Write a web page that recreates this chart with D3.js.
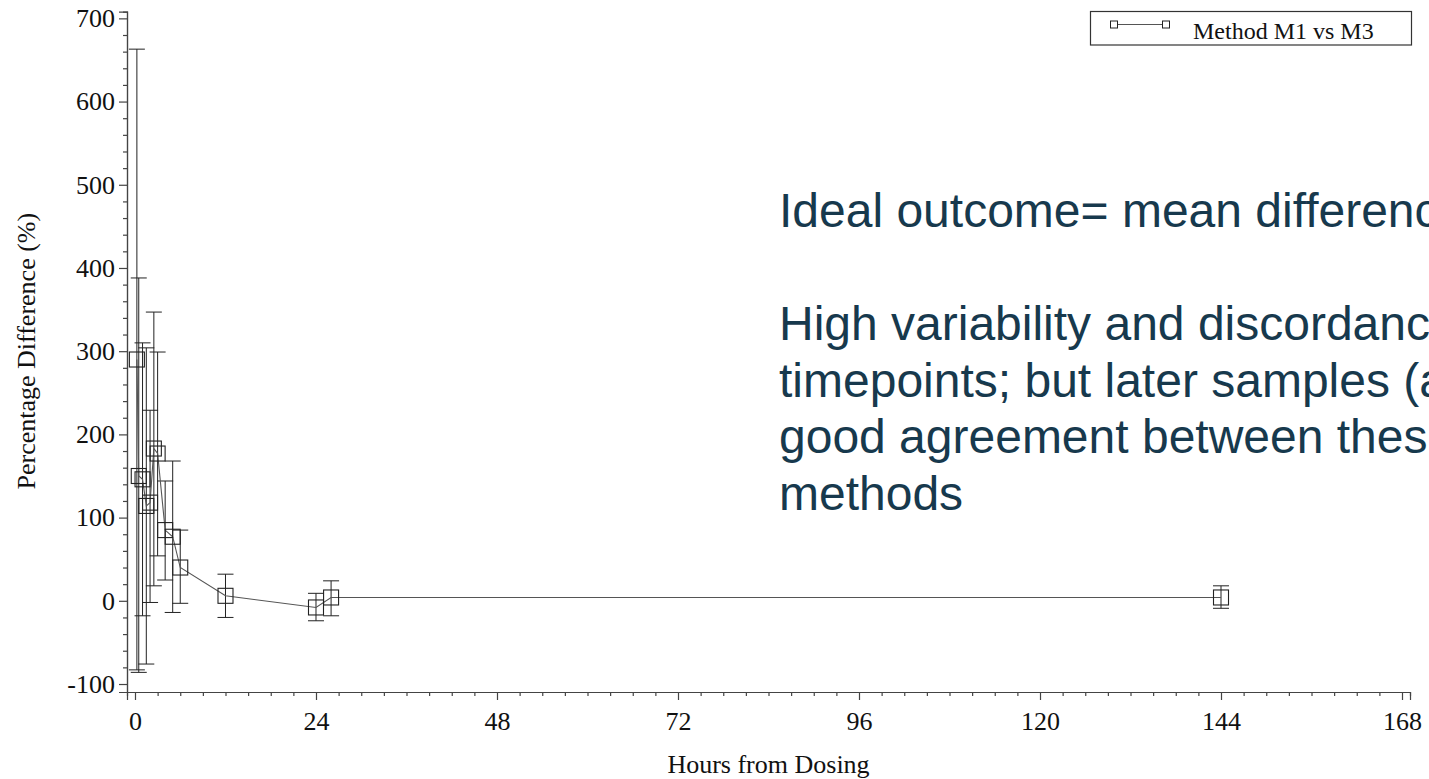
<!DOCTYPE html>
<html>
<head>
<meta charset="utf-8">
<script src="https://cdn.jsdelivr.net/npm/d3@7"></script>
<style>
  html, body { margin: 0; padding: 0; background: #fff; overflow: hidden; }
  svg { display: block; }
</style>
</head>
<body>
<svg id="chart" width="1429" height="779"></svg>
<script>
// Sampling times (hours post dose)
const hours = [0.25, 0.5, 1, 1.5, 2, 2.5, 3, 4, 5, 6, 12, 24, 26, 144];
// Mean percentage difference, method M1 vs M3
const meanDiff = [290, 150, 146, 114, 118, 183, 177, 85, 77, 40, 6, -8, 4, 4];
// Error bar limits
const lowerDiff = [-83, -86, -18, -76, -2, 18, 54, 25, -14, -3, -20, -24, -18, -9];
const upperDiff = [663, 388, 310, 304, 229, 347, 299, 144, 168, 85, 32, 9, 24, 18];

const xTicks = [0, 24, 48, 72, 96, 120, 144, 168];
const yTicks = [-100, 0, 100, 200, 300, 400, 500, 600, 700];

const seriesName = "Method M1 vs M3";
const xTitle = "Hours from Dosing";
const yTitle = "Percentage Difference (%)";
const noteLines = [
  "Ideal outcome= mean differenc",
  "",
  "High variability and discordanc",
  "timepoints; but later samples (a",
  "good agreement between thes",
  "methods"
];

const svg = d3.select("#chart");
const serif = "'Liberation Serif', 'Times New Roman', serif";
const sans = "'Liberation Sans', Arial, sans-serif";

const x = d3.scaleLinear().domain([-1.06, 169.06]).range([127, 1410]);
const y = d3.scaleLinear().domain([-109.6, 708]).range([692, 11.7]);

const axisColor = "#444";
const plainInt = d => String(d); // hyphen-minus for negatives

// Y axis with minor ticks
const yAxisG = svg.append("g").attr("transform", `translate(${x.range()[0]},0)`);
yAxisG.call(d3.axisLeft(y).tickValues(d3.range(-100, 701, 20)).tickSize(4).tickFormat(""));
yAxisG.call(g => g.selectAll(".tick").filter(d => d % 100 === 0).remove());
const yMajor = svg.append("g").attr("transform", `translate(${x.range()[0]},0)`)
  .call(d3.axisLeft(y).tickValues(yTicks).tickSize(8).tickPadding(4).tickFormat(plainInt));
[yAxisG, yMajor].forEach(g => {
  g.selectAll("path.domain").attr("stroke", axisColor).attr("stroke-width", 1.2);
  g.selectAll(".tick line").attr("stroke", axisColor).attr("stroke-width", 1.2);
});
yMajor.selectAll("text").attr("font-family", serif).attr("font-size", 26).attr("fill", "#111");

// X axis with minor ticks
const xAxisG = svg.append("g").attr("transform", `translate(0,${y.range()[0]})`);
xAxisG.call(d3.axisBottom(x).tickValues(d3.range(0, 169, 3)).tickSize(4).tickFormat(""));
xAxisG.call(g => g.selectAll(".tick").filter(d => d % 24 === 0).remove());
const xMajor = svg.append("g").attr("transform", `translate(0,${y.range()[0]})`)
  .call(d3.axisBottom(x).tickValues(xTicks).tickSize(8).tickPadding(12).tickFormat(plainInt));
[xAxisG, xMajor].forEach(g => {
  g.selectAll("path.domain").attr("stroke", axisColor).attr("stroke-width", 1.2);
  g.selectAll(".tick line").attr("stroke", axisColor).attr("stroke-width", 1.2);
});
xMajor.selectAll("text").attr("font-family", serif).attr("font-size", 26).attr("fill", "#111");

// Axis titles
svg.append("text")
  .attr("x", (x(0) + x(168)) / 2).attr("y", 773)
  .attr("text-anchor", "middle")
  .attr("font-family", serif).attr("font-size", 26).attr("fill", "#111")
  .text(xTitle);
svg.append("text")
  .attr("transform", `translate(35,${(y(-100) + y(700)) / 2}) rotate(-90)`)
  .attr("text-anchor", "middle")
  .attr("font-family", serif).attr("font-size", 26).attr("fill", "#111")
  .text(yTitle);

const points = hours.map((h, i) => ({ h, m: meanDiff[i], lo: lowerDiff[i], hi: upperDiff[i] }));

// Error bars
const capHalf = 8;
const bars = svg.append("g").attr("stroke", "#222").attr("stroke-width", 1).attr("fill", "none");
points.forEach(p => {
  const cx = x(p.h);
  bars.append("line").attr("x1", cx).attr("x2", cx).attr("y1", y(p.lo)).attr("y2", y(p.hi));
  bars.append("line").attr("x1", cx - capHalf).attr("x2", cx + capHalf).attr("y1", y(p.lo)).attr("y2", y(p.lo));
  bars.append("line").attr("x1", cx - capHalf).attr("x2", cx + capHalf).attr("y1", y(p.hi)).attr("y2", y(p.hi));
});

// Mean line
svg.append("path")
  .datum(points)
  .attr("fill", "none").attr("stroke", "#555").attr("stroke-width", 1.1)
  .attr("d", d3.line().x(d => x(d.h)).y(d => y(d.m)));

// Square markers
const sq = 15;
svg.append("g").selectAll("rect").data(points).join("rect")
  .attr("x", d => x(d.h) - sq / 2).attr("y", d => y(d.m) - sq / 2)
  .attr("width", sq).attr("height", sq)
  .attr("fill", "none").attr("stroke", "#222").attr("stroke-width", 1.1);

// Legend
const lg = svg.append("g");
lg.append("rect").attr("x", 1090.5).attr("y", 11.5).attr("width", 321).attr("height", 33.5)
  .attr("fill", "#fff").attr("stroke", "#333").attr("stroke-width", 1.2);
lg.append("line").attr("x1", 1114).attr("x2", 1166).attr("y1", 24.5).attr("y2", 24.5)
  .attr("stroke", "#555").attr("stroke-width", 1.1);
[1114, 1166].forEach(cx => {
  lg.append("rect").attr("x", cx - 3.5).attr("y", 21).attr("width", 7).attr("height", 7)
    .attr("fill", "#fff").attr("stroke", "#222").attr("stroke-width", 1);
});
lg.append("text").attr("x", 1193).attr("y", 38.5)
  .attr("font-family", serif).attr("font-size", 24).attr("fill", "#111")
  .text(seriesName);

// Annotation
const note = svg.append("text")
  .attr("font-family", sans).attr("font-size", 48).attr("fill", "#17394d");
noteLines.forEach((t, i) => {
  note.append("tspan").attr("x", 779).attr("y", 227 + i * 56.5).text(t || "\u00a0");
});
</script>
</body>
</html>
